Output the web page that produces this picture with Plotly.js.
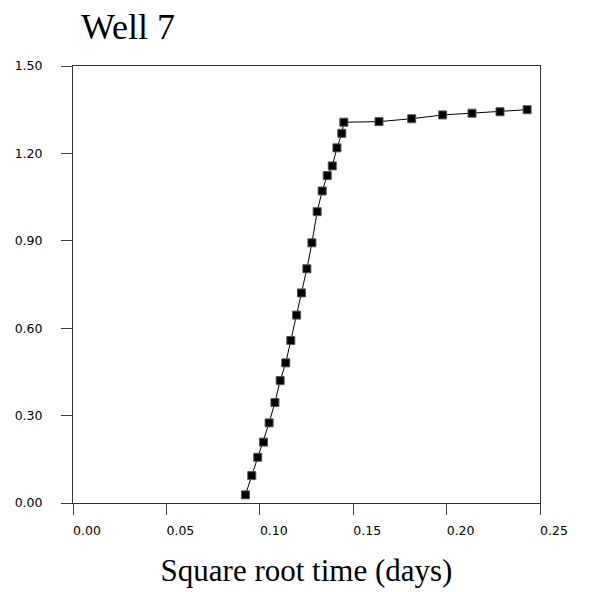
<!DOCTYPE html>
<html>
<head>
<meta charset="utf-8">
<script src="https://cdn.plot.ly/plotly-3.0.1.min.js"></script>
<style>html,body{margin:0;padding:0;background:#fff;}#chart{width:589px;height:592px;}</style>
</head>
<body>
<div id="chart"></div>
<script>
const sqrtTime = [0.0923, 0.0957, 0.0989, 0.1020, 0.1050, 0.1081, 0.1109, 0.1139, 0.1166, 0.1197,
  0.1223, 0.1252, 0.1279, 0.1307, 0.1334, 0.1361, 0.1388, 0.1413, 0.1439, 0.1450,
  0.1638, 0.1813, 0.1979, 0.2136, 0.2286, 0.2431];
const values = [0.028, 0.094, 0.157, 0.209, 0.275, 0.345, 0.420, 0.481, 0.558, 0.645,
  0.721, 0.804, 0.893, 1.000, 1.071, 1.124, 1.157, 1.219, 1.269, 1.307,
  1.309, 1.319, 1.332, 1.338, 1.343, 1.350];
const xTicks = [0, 0.05, 0.10, 0.15, 0.20, 0.25];
const yTicks = [0, 0.30, 0.60, 0.90, 1.20, 1.50];
const titleText = 'Well 7';
const xTitleText = 'Square root time (days)';

const tickFont = {family: 'DejaVu Sans', size: 12.5, color: '#000'};
const axisCommon = {
  showgrid: false, zeroline: false, showline: true, mirror: true,
  linecolor: '#333', linewidth: 1,
  ticks: 'outside', ticklen: 11, tickwidth: 1, tickcolor: '#444',
  tickfont: tickFont, tickformat: '.2f', tickmode: 'array'
};

Plotly.newPlot('chart', [{
  x: sqrtTime, y: values, type: 'scatter', mode: 'lines+markers',
  line: {color: '#000', width: 1},
  marker: {symbol: 'square', size: 8, color: '#000', line: {color: '#555', width: 1}},
  cliponaxis: false, showlegend: false
}], {
  width: 589, height: 592,
  margin: {l: 73, r: 49, t: 66, b: 89, pad: 0},
  paper_bgcolor: '#fff', plot_bgcolor: '#fff',
  title: {text: titleText, font: {family: 'Liberation Serif', size: 36, color: '#000'},
    xref: 'container', yref: 'container', x: 81 / 589, xanchor: 'left', y: 1 - 26 / 592, yanchor: 'middle'},
  xaxis: Object.assign({}, axisCommon, {
    range: [0, 0.25], tickvals: xTicks, ticklabelshift: 14, ticklabelstandoff: 5,
    title: {text: xTitleText, font: {family: 'Liberation Serif', size: 31, color: '#000'}, standoff: 22}
  }),
  yaxis: Object.assign({}, axisCommon, {
    range: [0, 1.5], tickvals: yTicks, ticklabelstandoff: 16
  })
}, {displayModeBar: false, staticPlot: true});
</script>
</body>
</html>
